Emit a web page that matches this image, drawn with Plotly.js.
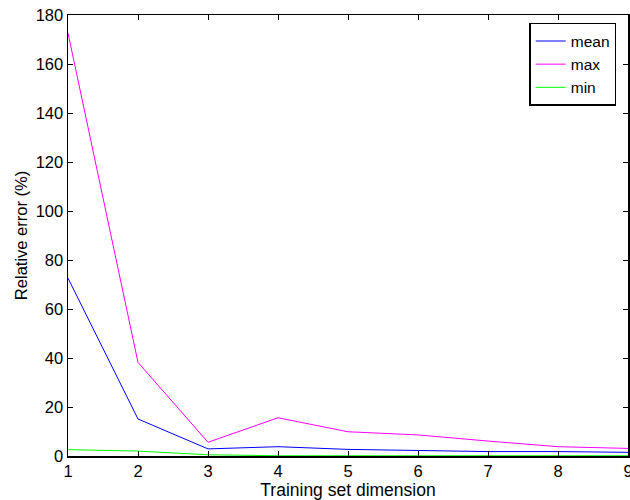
<!DOCTYPE html>
<html><head><meta charset="utf-8">
<script src="https://cdn.plot.ly/plotly-3.0.1.min.js"></script>
<style>html,body{margin:0;padding:0;background:#fff;overflow:hidden}</style>
</head><body>
<div id="chart" style="width:650px;height:500px"></div>
<script>
const dims = [1, 2, 3, 4, 5, 6, 7, 8, 9];
const meanErr = [72.6, 15.1, 2.9, 3.8, 2.7, 2.2, 1.8, 1.8, 1.5];
const maxErr = [172.6, 38.2, 5.6, 15.6, 9.9, 8.6, 6.1, 3.8, 3.1];
const minErr = [2.6, 2.0, 0.5, 0.1, 0.1, 0.1, 0.1, 0.1, 0.1];
const xTicks = [1, 2, 3, 4, 5, 6, 7, 8, 9];
const yTicks = [0, 20, 40, 60, 80, 100, 120, 140, 160, 180];

const font = {family: 'Liberation Sans, Arial, sans-serif', color: '#000'};
const traces = [
  {x: dims, y: meanErr, name: 'mean', mode: 'lines', line: {color: '#0000ff', width: 1}},
  {x: dims, y: maxErr, name: 'max', mode: 'lines', line: {color: '#ff00ff', width: 1}},
  {x: dims, y: minErr, name: 'min', mode: 'lines', line: {color: '#00ff00', width: 1}}
];
const layout = {
  width: 650, height: 500,
  margin: {l: 68, r: 22, t: 15, b: 44},
  paper_bgcolor: '#fff', plot_bgcolor: '#fff',
  font: Object.assign({size: 16.5}, font),
  showlegend: true,
  legend: {x: 0.979, y: 0.982, xanchor: 'right', yanchor: 'top',
    bordercolor: '#000', borderwidth: 1.5, bgcolor: '#fff',
    entrywidth: 95, entrywidthmode: 'pixels',
    font: Object.assign({size: 15.5}, font), tracegroupgap: 0},
  xaxis: {range: [1, 9], tickvals: xTicks, ticks: 'inside', ticklen: 5, tickwidth: 1,
    tickcolor: '#000', showline: true, linecolor: '#000', linewidth: 1.5, mirror: 'ticks',
    showgrid: false, zeroline: false, tickfont: Object.assign({size: 16.5}, font),
    title: {text: 'Training set dimension', font: Object.assign({size: 17.5}, font), standoff: 2}},
  yaxis: {range: [0, 180], tickvals: yTicks, ticks: 'inside', ticklen: 5, tickwidth: 1,
    tickcolor: '#000', showline: true, linecolor: '#000', linewidth: 1.5, mirror: 'ticks',
    showgrid: false, zeroline: false, tickfont: Object.assign({size: 16.5}, font),
    title: {text: 'Relative error (%)', font: Object.assign({size: 16.5}, font), standoff: 4}}
};
Plotly.newPlot('chart', traces, layout, {displayModeBar: false, staticPlot: true});
</script>
</body></html>
